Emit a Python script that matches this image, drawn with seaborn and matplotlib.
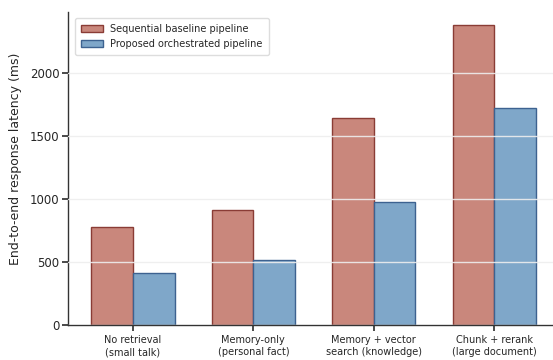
import matplotlib
matplotlib.use("Agg")
import matplotlib.pyplot as plt
import matplotlib.patches as mpatches
import pandas as pd
import seaborn as sns

CATEGORIES = [
    "No retrieval\n(small talk)",
    "Memory-only\n(personal fact)",
    "Memory + vector\nsearch (knowledge)",
    "Chunk + rerank\n(large document)",
]
SEQUENTIAL = [780, 910, 1640, 2380]
PROPOSED = [410, 520, 980, 1720]
SERIES = ["Sequential baseline pipeline", "Proposed orchestrated pipeline"]

FILLS = ["#c9877c", "#7fa7c9"]
EDGES = ["#8a3c35", "#3d6290"]

sns.set_theme(style="white")

df = pd.DataFrame({
    "scenario": CATEGORIES * 2,
    "latency": SEQUENTIAL + PROPOSED,
    "pipeline": [SERIES[0]] * 4 + [SERIES[1]] * 4,
})

fig = plt.figure(figsize=(5.53, 3.6), dpi=100)
ax = fig.add_axes([0.123, 0.097, 0.877, 0.870])
sns.barplot(data=df, x="scenario", y="latency", hue="pipeline",
            palette=FILLS, width=0.69, saturation=1, ax=ax, legend=False)

for container, edge in zip(ax.containers, EDGES):
    for bar in container:
        bar.set_edgecolor(edge)
        bar.set_linewidth(1.0)

ax.set_xlim(-0.54, 3.49)
ax.set_ylim(0, 2485)
ax.set_yticks([0, 500, 1000, 1500, 2000])
ax.yaxis.grid(True, color="#eeeeee", linewidth=1, alpha=0.9)
ax.set_axisbelow(False)
sns.despine(ax=ax)
for s in ("left", "bottom"):
    ax.spines[s].set_color("#333333")
    ax.spines[s].set_linewidth(1.0)

ax.tick_params(axis="y", labelsize=8.5, left=True, length=4, color="#333333", pad=2)
ax.tick_params(axis="x", labelsize=7, bottom=True, length=4, color="#333333")
ax.set_xlabel("")
ax.set_ylabel("End-to-end response latency (ms)", fontsize=9, labelpad=5)
ax.yaxis.set_label_coords(-0.095, 0.53)

handles = [mpatches.Patch(facecolor=f, edgecolor=e, linewidth=1.0, label=s)
           for f, e, s in zip(FILLS, EDGES, SERIES)]
ax.legend(handles=handles, loc="upper left", fontsize=7, frameon=True,
          framealpha=1, edgecolor="#dddddd", handlelength=2.2,
          borderpad=0.6, bbox_to_anchor=(0.005, 0.995))

fig.savefig("out.png", dpi=100)
